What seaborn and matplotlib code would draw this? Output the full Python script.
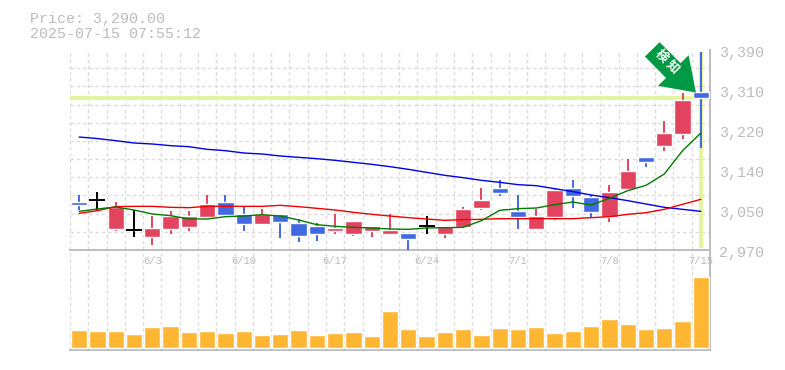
import numpy as np
import pandas as pd
import matplotlib.pyplot as plt
import seaborn as sns
import matplotlib.patches as mpatches
from matplotlib.transforms import Affine2D

days = [d.strftime("%-m/%-d") for d in pd.bdate_range("2025-05-28", "2025-07-15")]
tick_days = ["6/3", "6/10", "6/17", "6/24", "7/1", "7/8", "7/15"]
price_ticks = [2970, 3054, 3138, 3222, 3306, 3390]
price_labels = ["2,970", "3,050", "3,140", "3,220", "3,310", "3,390"]

opens = [3070.8, 3074.3, 3014.1, 3011.3, 2997.3, 3014.1, 3018.3, 3039.3, 3070.8, 3045.6, 3024.6, 3045.6,
         3026.7, 3020.4, 3009.9, 3003.6, 3009.9, 3003.6, 3005.7, 3019.7, 3003.6, 3018.3, 3058.2, 3100.2, 3051.9,
         3014.1, 3039.3, 3100.2, 3081.3, 3039.3, 3098.1, 3165.3, 3188.4, 3213.6, 3301.8]
closes = [3064.5, 3074.3, 3060.3, 3011.3, 3016.2, 3041.4, 3041.4, 3066.6, 3043.5, 3024.6, 3045.6, 3028.8,
          2999.4, 3003.6, 3016.2, 3030.9, 3020.4, 3012.0, 2993.1, 3019.7, 3020.4, 3056.1, 3075.0, 3089.7, 3039.3,
          3041.4, 3096.0, 3083.4, 3049.8, 3091.8, 3135.9, 3154.8, 3215.7, 3285.0, 3289.2]
highs = [3085.5, 3091.8, 3070.8, 3055.0, 3041.4, 3051.9, 3051.9, 3085.5, 3085.5, 3060.3, 3056.1, 3045.6,
         3035.1, 3026.0, 3045.6, 3030.9, 3020.4, 3045.6, 3005.7, 3041.4, 3020.4, 3060.3, 3100.2, 3117.0, 3085.5,
         3056.1, 3099.5, 3117.0, 3085.5, 3106.5, 3161.0, 3166.0, 3240.9, 3299.0, 3385.8]
lows = [3054.0, 3054.0, 3009.9, 2997.0, 2980.5, 3003.6, 3009.9, 3039.3, 3043.5, 3009.9, 3024.6, 2995.2,
        2987.5, 2989.0, 3003.6, 2999.4, 2997.3, 3003.6, 2970.0, 3003.6, 2995.2, 3018.3, 3054.0, 3083.4, 3014.1,
        3014.1, 3033.0, 3058.2, 3039.3, 3028.8, 3098.0, 3144.3, 3177.9, 3203.1, 3184.2]

ma_short = [3051.2, 3056.1, 3060.3, 3054.0, 3045.6, 3042.1, 3035.1, 3035.1, 3040.0, 3041.4, 3044.2, 3041.4,
            3033.0, 3023.2, 3019.7, 3017.6, 3016.2, 3014.1, 3013.4, 3016.2, 3016.9, 3017.6, 3031.6, 3053.3, 3056.8,
            3058.2, 3065.2, 3070.8, 3064.5, 3078.5, 3094.6, 3105.8, 3129.6, 3178.6, 3215.7]
ma_mid = [3047.0, 3052.6, 3061.0, 3061.7, 3061.7, 3059.6, 3058.9, 3061.7, 3061.7, 3061.7, 3061.7, 3063.8,
          3061.0, 3057.5, 3054.0, 3049.1, 3044.9, 3041.4, 3037.9, 3035.1, 3032.3, 3033.7, 3034.4, 3035.8, 3035.8,
          3035.8, 3035.8, 3035.8, 3037.9, 3040.0, 3044.9, 3048.4, 3055.4, 3065.9, 3076.4]
ma_long = [3207.3, 3204.0, 3199.6, 3194.7, 3192.6, 3189.1, 3187.0, 3181.4, 3178.6, 3173.7, 3171.6, 3167.4,
           3164.6, 3161.8, 3158.3, 3154.1, 3149.9, 3145.0, 3139.4, 3133.1, 3126.8, 3121.9, 3116.3, 3112.1, 3107.2,
           3105.1, 3098.8, 3092.5, 3085.5, 3079.9, 3073.6, 3066.6, 3059.6, 3055.4, 3051.2]
volumes = [18, 17, 17, 14, 21, 22, 16, 17, 15, 17, 13, 14, 18, 13, 15, 16, 12, 37,
           19, 12, 16, 19, 13, 20, 19, 21, 15, 17, 22, 29, 24, 19, 20, 27, 71]
last_price = 3290

RED = "#e2445f"
BLUE = "#4169e1"
GRID = "#dcdcdc"
AXIS = "#bdbdbd"
TEXT = "#bcbcbc"
MARK = "#e4f5a2"
MONO = "Liberation Mono"

sns.set_style("white")
fig = plt.figure(figsize=(7.85, 3.7), dpi=100, facecolor="white")
ax_vol = fig.add_axes([70 / 785, 20.5 / 370, 640 / 785, 99.5 / 370])
ax = fig.add_axes([70 / 785, 120 / 370, 640 / 785, 200 / 370])
ax.patch.set_visible(False)

candles = pd.DataFrame({"day": days, "open": opens, "close": closes, "high": highs, "low": lows})
candles["bottom"] = candles[["open", "close"]].min(axis=1)
candles["size"] = (candles["open"] - candles["close"]).abs()
colors = [RED if c > o else BLUE for o, c in zip(opens, closes)]
pos = np.arange(len(days))


def settings_plot(ax):
    ax.set_xlim(-0.5, len(days) - 0.5)
    ax.set_xticks(np.arange(-0.5, len(days)), minor=True)
    ax.grid(which="minor", axis="x", color=GRID, ls=(0, (2.5, 2)), lw=1)
    ax.set_axisbelow(True)
    ax.set_xlabel("")
    ax.set_ylabel("")
    ax.tick_params(which="both", length=0, labelleft=False, labelright=False)
    for side in ["left", "top"]:
        ax.spines[side].set_visible(False)
    for side in ["right", "bottom"]:
        ax.spines[side].set_color(AXIS)
        ax.spines[side].set_linewidth(1.4)
    return ax


# price panel
for col in [RED, BLUE]:
    rows = candles[[c == col for c in colors]]
    sns.barplot(data=rows, x="day", y="size", bottom=rows["bottom"], order=days, color=col,
                width=0.89, saturation=1, ax=ax, zorder=4)
ax.vlines(pos, lows, highs, colors=["black" if o == c else col for o, c, col in zip(opens, closes, colors)],
          lw=1.4, zorder=3)
doji = candles["size"] == 0
ax.hlines(candles["open"][doji], pos[doji] - 0.44, pos[doji] + 0.44, color="black", lw=1.4, zorder=4)
ax.axhline(last_price, color=MARK, lw=3, zorder=2)
ax.vlines(pos[-1], 2975, 3385, color=MARK, lw=3, zorder=2)
sns.lineplot(x=pos, y=ma_long, color="#0000e0", lw=1.0, ax=ax, zorder=5)
sns.lineplot(x=pos, y=ma_mid, color="#f00000", lw=1.0, ax=ax, zorder=5)
sns.lineplot(x=pos, y=ma_short, color="#007a00", lw=1.0, ax=ax, zorder=5)
ax.set_ylim(2970, 3390)
ax.set_yticks(np.linspace(2970, 3390, 12), minor=True)
ax.grid(which="minor", axis="y", color=GRID, ls=(0, (2.5, 2)), lw=1)
settings_plot(ax)
ax.spines["bottom"].set_zorder(1)
ax.set_xticks([days.index(d) for d in tick_days], tick_days, family=MONO, fontsize=7.6, color=TEXT)
ax.tick_params(axis="x", which="major", pad=4.5)
ax.set_yticks(price_ticks, [""] * len(price_ticks))
for value, label in zip(price_ticks, price_labels):
    ax.annotate(label, xy=(1, value), xycoords=ax.get_yaxis_transform(), xytext=(9, -2.5),
                textcoords="offset pixels", family=MONO, fontsize=10.8, color=TEXT, va="center",
                annotation_clip=False)

# signal arrow, shape in pixels relative to its tip
arrow_shape = [(0, 0), (-38, 6.7), (-29.8, 14.5), (-51, 36), (-36.3, 50.3), (-15.3, 29.3), (-7.3, 37.3)]
tip = ax.transData.transform((33.73, 3300.7))
ax.add_patch(mpatches.Polygon(arrow_shape, closed=True, facecolor="#009944", edgecolor="none", zorder=6,
                              transform=Affine2D().translate(*tip), clip_on=False))
ax.annotate("検 知", xy=tip, xycoords="figure pixels", xytext=(-29, 31), textcoords="offset pixels",
            family=["Noto Sans CJK JP", "DejaVu Sans"], weight="bold", fontsize=9, color="white",
            rotation=-45, rotation_mode="anchor", ha="center", va="center", zorder=7)

# volume panel
sns.barplot(x=days, y=volumes, color="#ffb733", width=0.89, saturation=1, ax=ax_vol, zorder=3)
ax_vol.set_ylim(-1.5, 98)
settings_plot(ax_vol)
ax_vol.set_xticks([])
ax_vol.set_yticks([])

fig.text(30 / 785, 1 - 18.5 / 370, "Price: 3,290.00", family=MONO, fontsize=10.8, color=TEXT, va="center")
fig.text(30 / 785, 1 - 33.5 / 370, "2025-07-15 07:55:12", family=MONO, fontsize=10.8, color=TEXT, va="center")

plt.savefig("out.png", dpi=100)
